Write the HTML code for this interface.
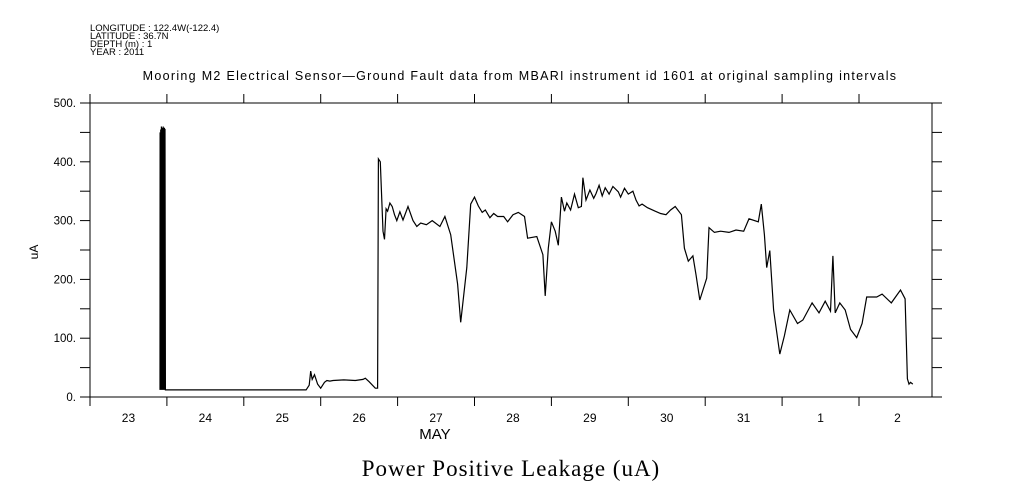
<!DOCTYPE html>
<html><head><meta charset="utf-8"><style>
body{margin:0;background:#fff;}
svg{display:block;}
text{font-family:"Liberation Sans",sans-serif;fill:#000;}
</style></head><body>
<svg id="chart" width="1009" height="504" viewBox="0 0 1009 504" xmlns="http://www.w3.org/2000/svg">
<g font-size="9.5">
<text x="90" y="31">LONGITUDE : 122.4W(-122.4)</text>
<text x="90" y="39">LATITUDE : 36.7N</text>
<text x="90" y="47">DEPTH (m) : 1</text>
<text x="90" y="55">YEAR : 2011</text>
</g>
<text x="520" y="80" text-anchor="middle" font-size="12.5" letter-spacing="1.3">Mooring M2 Electrical Sensor—Ground Fault data from MBARI instrument id 1601 at original sampling intervals</text>
<rect x="90" y="103" width="842" height="294" fill="none" stroke="#000" stroke-width="1"/>
<g id="axes"></g>
<path id="series" fill="none" stroke="#000" stroke-width="1.2"/>
<text x="38" y="252" font-size="12" transform="rotate(-90 38 252)" text-anchor="middle">uA</text>
<text x="435" y="439" font-size="15" text-anchor="middle">MAY</text>
<text x="511" y="476" font-size="23" text-anchor="middle" style="font-family:'Liberation Serif',serif" letter-spacing="1">Power Positive Leakage (uA)</text>
</svg>
<script>
const dayLabels=["23","24","25","26","27","28","29","30","31","1","2"];
const yTicks=[0,100,200,300,400,500];
const times=[
0.91,0.912,0.918,0.92,0.925,0.928,0.933,0.936,0.94,0.944,
0.948,0.952,0.956,0.96,0.964,0.968,0.972,0.975,0.98,2.81,
2.85,2.87,2.89,2.92,2.96,3.0,3.05,3.08,3.12,3.16,
3.3,3.45,3.55,3.58,3.63,3.71,3.74,3.75,3.775,3.81,
3.83,3.85,3.87,3.9,3.93,3.96,3.99,4.03,4.07,4.135,
4.2,4.25,4.3,4.375,4.45,4.55,4.615,4.69,4.78,4.82,
4.90,4.95,5.00,5.05,5.1,5.14,5.2,5.25,5.3,5.38,
5.43,5.5,5.57,5.65,5.69,5.81,5.89,5.92,5.96,6.0,
6.05,6.09,6.13,6.17,6.2,6.25,6.3,6.35,6.39,6.41,
6.45,6.5,6.55,6.58,6.62,6.66,6.7,6.75,6.8,6.87,
6.9,6.95,7.0,7.06,7.1,7.14,7.18,7.25,7.35,7.42,
7.49,7.55,7.61,7.69,7.73,7.78,7.84,7.88,7.93,8.02,
8.05,8.12,8.2,8.31,8.4,8.5,8.57,8.69,8.73,8.77,
8.80,8.84,8.89,8.97,9.03,9.10,9.20,9.27,9.39,9.48,
9.56,9.63,9.66,9.69,9.75,9.82,9.89,9.97,10.04,10.10,
10.23,10.3,10.42,10.54,10.60,10.63,10.65,10.67,10.70];
const values=[
12,450,15,455,12,460,14,458,12,458,
15,460,12,455,15,458,12,456,12,12,
20,44,30,38,22,15,25,28,27,28,
29,28,30,32,26,15,15,405,400,282,
268,320,316,330,324,310,300,315,301,324,
300,290,296,293,300,290,307,276,192,127,
220,328,340,325,314,318,305,312,307,307,
298,310,314,307,270,273,242,172,253,298,
282,258,340,316,330,318,345,322,324,373,
335,352,338,346,360,342,356,345,358,349,
340,355,345,350,335,325,328,322,316,312,
310,318,324,310,253,231,240,208,165,202,
288,280,282,280,284,282,303,298,328,276,
220,249,148,73,104,148,125,131,160,143,
163,146,240,143,160,148,115,101,125,170,
170,175,160,182,167,31,22,25,22];
const X0=90,X1=932,Y0=397,Y1=103,DAYPX=76.9;
const xs=t=>X0+t*DAYPX;
const ys=v=>Y0-(v/500)*(Y0-Y1);
const NS="http://www.w3.org/2000/svg";
const ax=document.getElementById('axes');
function ln(x1,y1,x2,y2,name){const l=document.createElementNS(NS,'line');l.setAttribute('x1',x1);l.setAttribute('y1',y1);l.setAttribute('x2',x2);l.setAttribute('y2',y2);l.setAttribute('stroke','#000');


ax.appendChild(l);}
for(let d=0;d<=10;d++){const x=xs(d);ln(x,Y0,x,Y0+9,'x-tick');ln(x,Y1,x,Y1-9,'x-top-tick');}
for(let v=0;v<=500;v+=50){const y=ys(v);ln(X0-10,y,X0,y,'y-tick');ln(X1,y,X1+10,y,'y-right-tick');}
dayLabels.forEach((s,i)=>{const t=document.createElementNS(NS,'text');t.setAttribute('x',xs(i+0.5));t.setAttribute('y',Y0+25);t.setAttribute('text-anchor','middle');t.setAttribute('font-size','12');t.textContent=s;


ax.appendChild(t);});
yTicks.forEach(v=>{const t=document.createElementNS(NS,'text');t.setAttribute('x',X0-14);t.setAttribute('y',ys(v)+4);t.setAttribute('text-anchor','end');t.setAttribute('font-size','11.5');t.textContent=v+'.';


ax.appendChild(t);});
let d='';
const n=Math.min(times.length,values.length);
for(let i=0;i<n;i++){d+=(i?'L':'M')+xs(times[i]).toFixed(1)+' '+ys(values[i]).toFixed(1)+' ';}
document.getElementById('series').setAttribute('d',d);
</script>
</body></html>
